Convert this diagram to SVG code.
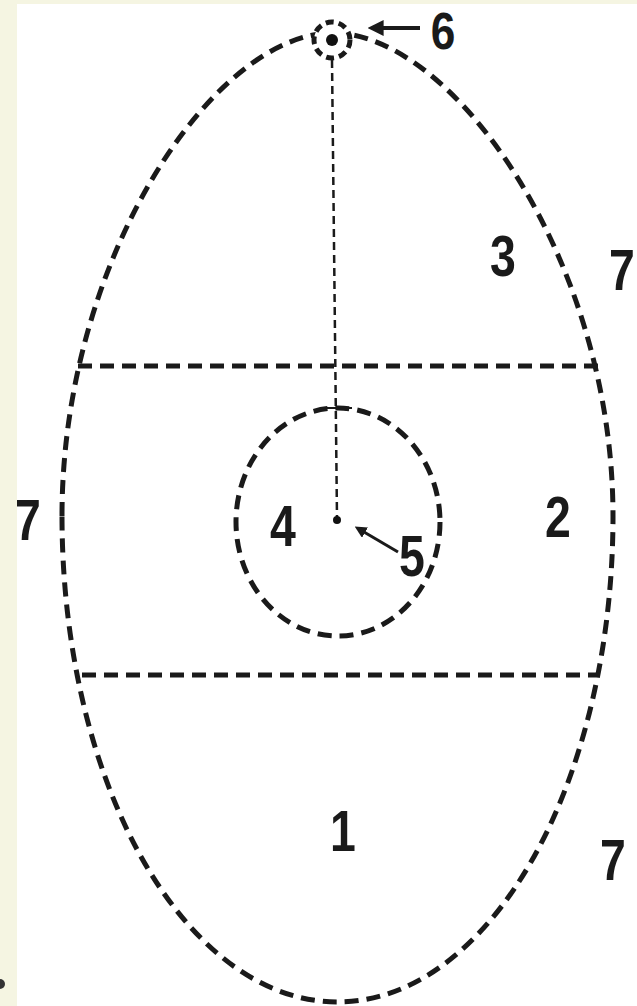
<svg xmlns="http://www.w3.org/2000/svg" width="637" height="1006" viewBox="0 0 637 1006">
<defs>
<style>
.d{fill:none;stroke:#1a1a1a;stroke-width:5;stroke-dasharray:14 8}
.t{fill:none;stroke:#1a1a1a;stroke-width:2.5;stroke-dasharray:8 5}
.lbl{font-family:"Liberation Sans",Arial,sans-serif;font-weight:bold;font-size:58px;fill:#1a1a1a;text-anchor:middle}
</style>
<marker id="ah" viewBox="0 0 10 10" refX="1" refY="5" markerWidth="4" markerHeight="4" orient="auto-start-reverse">
<path d="M0,0 L10,5 L0,10 z" fill="#1a1a1a"/>
</marker>
</defs>
<rect width="637" height="1006" fill="#f5f5e2"/>
<rect x="17" y="4" width="620" height="1002" fill="#ffffff"/>
<circle cx="0" cy="984" r="5" fill="#333"/>
<g id="outer">
<path d="M62,516 C62,260 213,33 333,33 C453,33 613,260 613,516 A275.5,486 0 0 1 62,516 Z" class="d"/>
</g>
<g id="dividers">
<line x1="78" y1="366" x2="598" y2="366" class="d"/>
<line x1="82" y1="675" x2="600" y2="675" class="d"/>
</g>
<g id="inner">
<ellipse cx="338" cy="522" rx="102" ry="114" class="d"/>
</g>
<g id="top-node">
<circle cx="332" cy="40" r="18" fill="#fff" stroke="#1a1a1a" stroke-width="5" stroke-dasharray="8 5"/>
<circle cx="332" cy="40" r="6" fill="#111"/>
</g>
<g id="connectors">
<line x1="332" y1="60" x2="337" y2="518" class="t"/>
<line x1="322" y1="408" x2="352" y2="408" stroke="#1a1a1a" stroke-width="2"/>
<circle cx="337" cy="520" r="4" fill="#111"/>
<line x1="398" y1="552" x2="364" y2="532" stroke="#1a1a1a" stroke-width="3" marker-end="url(#ah)"/>
<line x1="420" y1="28" x2="382" y2="28" stroke="#1a1a1a" stroke-width="4" marker-end="url(#ah)"/>
</g>
<g id="labels">
<text transform="translate(443,49) scale(0.85,1)" class="lbl" style="font-size:52px">6</text>
<text transform="translate(503,276) scale(0.8,1)" class="lbl">3</text>
<text transform="translate(622,290) scale(0.8,1)" class="lbl">7</text>
<text transform="translate(28,540) scale(0.8,1)" class="lbl">7</text>
<text transform="translate(558,537) scale(0.8,1)" class="lbl">2</text>
<text transform="translate(283,546) scale(0.8,1)" class="lbl">4</text>
<text transform="translate(412,576) scale(0.8,1)" class="lbl">5</text>
<text transform="translate(343,851) scale(0.8,1)" class="lbl">1</text>
<text transform="translate(613,880) scale(0.8,1)" class="lbl">7</text>
</g>
</svg>
